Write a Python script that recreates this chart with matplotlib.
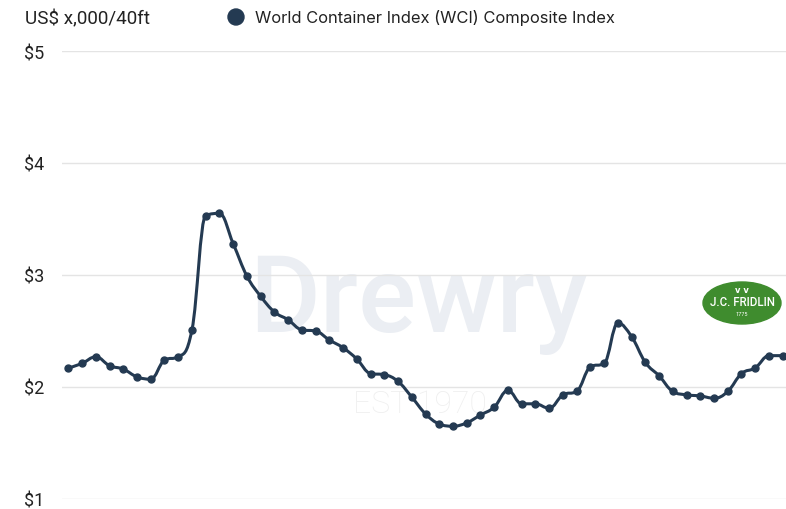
import matplotlib
matplotlib.use("Agg")
import matplotlib.pyplot as plt
from matplotlib.path import Path
from matplotlib.patches import PathPatch, Ellipse
import numpy as np

# weekly WCI composite, US$ thousands per 40ft
wci = [2.17, 2.21, 2.27, 2.19, 2.16, 2.09, 2.07, 2.24, 2.27, 2.51,
       3.53, 3.55, 3.28, 2.99, 2.81, 2.67, 2.60, 2.51, 2.50, 2.42,
       2.35, 2.25, 2.12, 2.11, 2.05, 1.91, 1.76, 1.67, 1.65, 1.68,
       1.75, 1.82, 1.97, 1.85, 1.85, 1.81, 1.93, 1.96, 2.18, 2.21,
       2.57, 2.45, 2.22, 2.10, 1.96, 1.93, 1.92, 1.90, 1.96, 2.12,
       2.17, 2.28, 2.28]
y_ticks = [1, 2, 3, 4, 5]
y_labels = ["$1", "$2", "$3", "$4", "$5"]
unit_label = "US$ x,000/40ft"
series_name = "World Container Index (WCI) Composite Index"

line_color = "#243a52"


def spline_path(xs, ys, smoothing=1.5):
    # highcharts-like spline through the points
    n = len(xs)
    lc = [(xs[i], ys[i]) for i in range(n)]
    rc = [(xs[i], ys[i]) for i in range(n)]
    d = smoothing + 1
    for i in range(1, n - 1):
        px, py = xs[i], ys[i]
        lx = (smoothing * px + xs[i - 1]) / d
        ly = (smoothing * py + ys[i - 1]) / d
        rx = (smoothing * px + xs[i + 1]) / d
        ry = (smoothing * py + ys[i + 1]) / d
        corr = (ry - ly) * (rx - px) / (rx - lx) + py - ry
        ly += corr
        ry += corr
        if ly > ys[i - 1] and ly > py:
            ly = max(ys[i - 1], py)
            ry = 2 * py - ly
        elif ly < ys[i - 1] and ly < py:
            ly = min(ys[i - 1], py)
            ry = 2 * py - ly
        if ry > ys[i + 1] and ry > py:
            ry = max(ys[i + 1], py)
            ly = 2 * py - ry
        elif ry < ys[i + 1] and ry < py:
            ry = min(ys[i + 1], py)
            ly = 2 * py - ry
        lc[i] = (lx, ly)
        rc[i] = (rx, ry)
    verts = [(xs[0], ys[0])]
    codes = [Path.MOVETO]
    for i in range(1, n):
        verts += [rc[i - 1], lc[i], (xs[i], ys[i])]
        codes += [Path.CURVE4] * 3
    return Path(verts, codes)


fig = plt.figure(figsize=(7.86, 5.10), dpi=100)
ax = fig.add_axes([62 / 786, 10 / 510, 724 / 786, 448 / 510])

x = np.arange(len(wci))

# watermark
ax.text(0.492, 0.375, "Drewry", transform=ax.transAxes, ha="center",
        va="baseline", fontsize=78, fontweight="medium", family="Roboto",
        color="#ebeef3", zorder=0)
ax.text(0.494, 0.194, "EST 1970", transform=ax.transAxes, ha="center",
        va="baseline", fontsize=23, fontweight="light", family="Roboto",
        color="#efefef", zorder=0)

ax.add_patch(PathPatch(spline_path(x, wci), facecolor="none",
                       edgecolor=line_color, lw=2.2, zorder=3,
                       capstyle="round", joinstyle="round"))
ax.plot(x, wci, "o", color=line_color, ms=5, zorder=4, clip_on=False)

ax.set_xlim(-0.46, len(wci) - 1 + 0.24)
ax.set_ylim(1, 5)
ax.set_yticks(y_ticks)
ax.set_yticklabels(y_labels, fontsize=13, family="Roboto", color="#222222")
ax.set_xticks([])
ax.grid(axis="y", color="#e4e4e4", lw=1, zorder=1)
ax.tick_params(axis="y", length=0, pad=13)
for s in ax.spines.values():
    s.set_visible(False)

# header
fig.text(25 / 786, 1 - 19 / 510, unit_label, fontsize=13.6, family="Roboto",
         color="#222222", va="center", ha="left")
fig.patches.append(Ellipse((236 / 786, 1 - 18 / 510), 16 / 786, 16 / 510,
                           transform=fig.transFigure, color=line_color))
fig.text(255 / 786, 1 - 18 / 510, series_name, fontsize=11.9, family="Inter",
         color="#222222", va="center", ha="left")

# logo badge
fig.patches.append(Ellipse((742 / 786, 1 - 304 / 510), 78 / 786, 42 / 510,
                           transform=fig.transFigure, color="#3f8c2e"))
fig.text(742 / 786, 1 - 291 / 510, "v v", fontsize=6, family="DejaVu Sans",
         color="white", ha="center", va="center", fontweight="bold")
fig.text(742 / 786, 1 - 302 / 510, "J.C. FRIDLIN", fontsize=8.3, family="Roboto",
         color="white", ha="center", va="center", fontweight="medium")
fig.text(742 / 786, 1 - 315 / 510, "1775", fontsize=4, family="Roboto",
         color="white", ha="center", va="center")

fig.savefig("out.png", dpi=100)
